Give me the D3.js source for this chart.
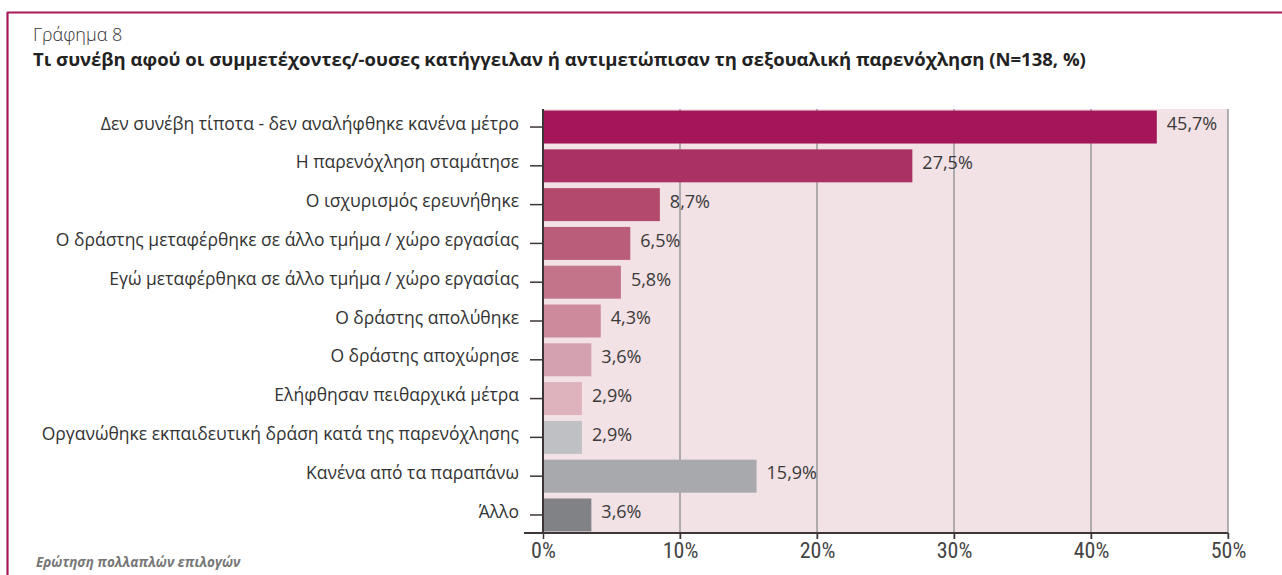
<!DOCTYPE html>
<html><head><meta charset="utf-8">
<script src="https://cdn.jsdelivr.net/npm/d3@7"></script>
<style>
html,body{margin:0;padding:0;background:#fff;}
svg{display:block;}
</style></head>
<body>
<script>
const categories = [
  "Δεν συνέβη τίποτα - δεν αναλήφθηκε κανένα μέτρο",
  "Η παρενόχληση σταμάτησε",
  "Ο ισχυρισμός ερευνήθηκε",
  "Ο δράστης μεταφέρθηκε σε άλλο τμήμα / χώρο εργασίας",
  "Εγώ μεταφέρθηκα σε άλλο τμήμα / χώρο εργασίας",
  "Ο δράστης απολύθηκε",
  "Ο δράστης αποχώρησε",
  "Ελήφθησαν πειθαρχικά μέτρα",
  "Οργανώθηκε εκπαιδευτική δράση κατά της παρενόχλησης",
  "Κανένα από τα παραπάνω",
  "Άλλο"
];
const values = [45.7, 27.5, 8.7, 6.5, 5.8, 4.3, 3.6, 2.9, 2.9, 15.9, 3.6];
const colors = ["#a4155a","#a93262","#b3496c","#ba5d7a","#c3738a","#cc8a9c","#d4a1b0","#deb3be","#bfc0c3","#a8a9ac","#808285"];
const xTicks = [0, 10, 20, 30, 40, 50];
const chartNumber = "Γράφημα 8";
const title = "Τι συνέβη αφού οι συμμετέχοντες/-ουσες κατήγγειλαν ή αντιμετώπισαν τη σεξουαλική παρενόχληση (N=138, %)";
const note = "Ερώτηση πολλαπλών επιλογών";

(function(){
const W = 1282, H = 575;
const svg = d3.select("body").append("svg").attr("width", W).attr("height", H);
const FF = "Open Sans, Noto Sans, sans-serif";

// frame
svg.append("line").attr("x1",7).attr("x2",W).attr("y1",12.5).attr("y2",12.5)
  .attr("stroke","#a8195a").attr("stroke-width",2.2);
svg.append("line").attr("x1",7.5).attr("x2",7.5).attr("y1",12).attr("y2",H)
  .attr("stroke","#a8195a").attr("stroke-width",2.2);

// titles
svg.append("text").attr("x",33).attr("y",41).text(chartNumber)
  .attr("font-family",FF).attr("font-size",18).attr("font-weight",300).attr("fill","#333");
svg.append("text").attr("x",33).attr("y",66).text(title)
  .attr("font-family",FF).attr("font-size",18.5).attr("font-weight",700).attr("fill","#222");

const pL = 543, pR = 1228, pT = 109, pB = 533;
const x = d3.scaleLinear().domain([0, 50]).range([pL, pR]);
const xBar = d3.scaleLinear().domain([0, 51]).range([pL, pR]);
const y = d3.scaleBand().domain(categories).range([pT, pB]).paddingInner(0.15).paddingOuter(0.04);

// background
svg.append("rect").attr("x",pL).attr("y",pT).attr("width",pR-pL).attr("height",pB-pT).attr("fill","#f2e1e5");

// gridlines
svg.append("g").selectAll("line").data(xTicks.slice(1)).join("line")
  .attr("x1",d=>x(d)).attr("x2",d=>x(d)).attr("y1",pT).attr("y2",pB+6)
  .attr("stroke","#9d9d9f").attr("stroke-width",1.6);

// bars
svg.append("g").selectAll("rect").data(values).join("rect")
  .attr("x", pL).attr("y",(d,i)=>y(categories[i]))
  .attr("width",d=>xBar(d)-pL).attr("height",y.bandwidth())
  .attr("fill",(d,i)=>colors[i]);

// value labels
svg.append("g").selectAll("text").data(values).join("text")
  .attr("x",d=>xBar(d)+10).attr("y",(d,i)=>y(categories[i])+y.bandwidth()/2-3)
  .attr("dy","0.35em")
  .attr("font-family",FF).attr("font-size",18).attr("fill","#3a3a3a")
  .text(d=>d.toFixed(1).replace(".",",")+"%");

// x axis
const xAxis = d3.axisBottom(x).tickValues(xTicks).tickFormat(d=>d+"%").tickSize(6).tickSizeOuter(0);
const gx = svg.append("g").attr("transform",`translate(0,${pB})`).call(xAxis);
gx.select(".domain").remove();
gx.append("line").attr("x1",524).attr("x2",pR).attr("y1",0).attr("y2",0).attr("stroke","#3d3536").attr("stroke-width",2);
gx.selectAll(".tick line").attr("stroke","#3d3536").attr("stroke-width",1.5);
gx.selectAll(".tick text").attr("font-family","Liberation Sans Narrow, Roboto Condensed, sans-serif")
  .attr("font-size",22).attr("fill","#444").attr("y",9);

// y axis
const yAxis = d3.axisLeft(y).tickSize(13).tickSizeOuter(0).tickPadding(11);
const gy = svg.append("g").attr("transform",`translate(${pL},0)`).call(yAxis);
gy.select(".domain").remove();
gy.append("line").attr("x1",0).attr("x2",0).attr("y1",pT).attr("y2",pB).attr("stroke","#3d3536").attr("stroke-width",2);
gy.selectAll(".tick line").attr("stroke","#3d3536").attr("stroke-width",1.5);
gy.selectAll(".tick text").attr("font-family",FF)
  .attr("font-size",17.5).attr("fill","#333").attr("dy","0.15em");

// note
svg.append("text").attr("x",36).attr("y",567).text(note)
  .attr("font-family",FF).attr("font-size",13.5).attr("font-style","italic").attr("font-weight",700).attr("fill","#777");
})();
</script>
</body></html>
